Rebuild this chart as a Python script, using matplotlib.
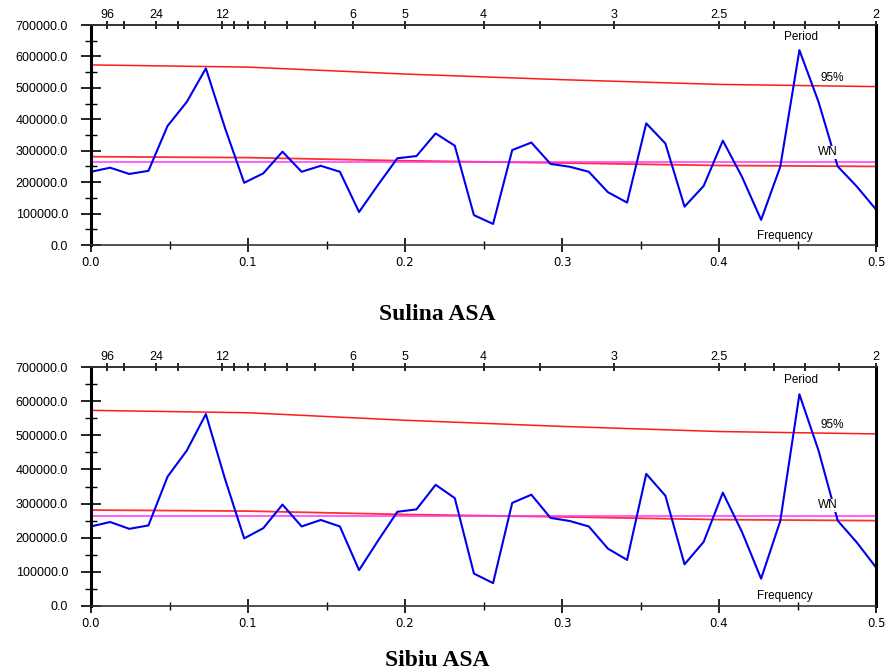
import numpy as np
import matplotlib.pyplot as plt

# spectrum estimates at f = i/82, i = 0..41
n_pts = 42
power = [233000, 246000, 226000, 236000, 379000, 455000, 562000, 372000,
         198000, 228000, 297000, 233000, 252000, 233000, 105000, 192000,
         276000, 283000, 355000, 316000, 95000, 67000, 302000, 326000,
         258000, 249000, 233000, 168000, 135000, 387000, 323000, 122000,
         188000, 332000, 217000, 80000, 249000, 620000, 455000, 250000,
         186000, 113000]

# red-noise mean and 95% confidence curves
ref_freq = [0.0, 0.1, 0.2, 0.3, 0.4, 0.5]
conf95 = [573000, 566000, 544000, 526000, 511000, 504000]
red_mean = [281000, 278000, 268000, 261000, 253000, 250000]
white_noise = 265000

# top axis: periods
periods = [96, 48, 24, 18, 12, 11, 10, 9, 8, 7, 6, 5, 4, 3.5, 3, 2.5, 2.4, 2.3, 2.2, 2.1, 2]
labelled = {96: "96", 24: "24", 12: "12", 6: "6", 5: "5", 4: "4", 3: "3", 2.5: "2.5", 2: "2"}

titles = ["Sulina ASA", "Sibiu ASA"]

freq = np.arange(n_pts) / (2.0 * (n_pts - 1))

fig = plt.figure(figsize=(8.85, 6.7), dpi=100)
W, H = 885.0, 670.0
# axes boxes in pixels: left, top, right, bottom
boxes = [(91, 25, 876, 245), (91, 367, 876, 606)]
title_y = [314, 660]

for box, title, ty in zip(boxes, titles, title_y):
    l, t, r, b = box
    ax = fig.add_axes([l / W, 1 - b / H, (r - l) / W, (b - t) / H])
    ax.plot(ref_freq, conf95, color="#ff1a1a", lw=1.1)
    ax.plot(ref_freq, red_mean, color="#ff3030", lw=1.3)
    ax.axhline(white_noise, color="#ff33ff", lw=1.1)
    ax.plot(freq, power, color="#0000ee", lw=1.5)

    ax.set_xlim(0, 0.5)
    ax.set_ylim(0, 700000)
    ax.set_xticks([0.0, 0.1, 0.2, 0.3, 0.4, 0.5])
    ax.set_xticks(np.arange(0.05, 0.5, 0.1), minor=True)
    ax.set_xticklabels(["0.0", "0.1", "0.2", "0.3", "0.4", "0.5"])
    ax.set_yticks(np.arange(0, 700001, 100000))
    ax.set_yticks(np.arange(50000, 700000, 100000), minor=True)
    ax.set_yticklabels(["%.1f" % v for v in np.arange(0, 700001, 100000)])

    ax.tick_params(axis="x", which="major", direction="inout", length=10,
                   width=1.2, labelsize=8.5, pad=3)
    ax.tick_params(axis="x", which="minor", direction="inout", length=6, width=1.0)
    ax.tick_params(axis="y", which="major", direction="inout", length=15,
                   width=1.2, labelsize=9, pad=9)
    ax.tick_params(axis="y", which="minor", direction="inout", length=8, width=1.0)
    for lab in ax.get_xticklabels():
        lab.set_family("Liberation Sans Narrow")
    for lab in ax.get_yticklabels():
        lab.set_family("Liberation Sans")

    for side in ["left", "right"]:
        ax.spines[side].set_linewidth(2.2)
        ax.spines[side].set_color("black")
    for side in ["top", "bottom"]:
        ax.spines[side].set_linewidth(1.2)
        ax.spines[side].set_color("#333333")

    top = ax.twiny()
    top.set_xlim(0, 0.5)
    top.set_xticks([1.0 / p for p in periods])
    top.set_xticklabels([labelled.get(p, "") for p in periods])
    top.tick_params(axis="x", direction="inout", length=6, width=1.2,
                    labelsize=9, pad=0)
    for lab in top.get_xticklabels():
        lab.set_family("Liberation Sans")
    for side in ["left", "right", "bottom"]:
        top.spines[side].set_visible(False)
    top.spines["top"].set_linewidth(1.2)
    top.spines["top"].set_color("#333333")

    txt = dict(fontsize=8.5, family="Liberation Sans", ha="center", va="center")
    ax.text(0.452, 663000, "Period", **txt)
    ax.text(0.472, 531000, "95%", **txt)
    ax.text(0.4695, 295000, "WN", bbox=dict(facecolor="white", edgecolor="none", pad=0.5), **txt)
    ax.text(0.442, 30000, "Frequency", **txt)

    fig.text(437 / W, 1 - ty / H, title, ha="center", va="center",
             fontsize=17, fontweight="bold", family="Liberation Serif")

fig.savefig("out.png", dpi=100)
